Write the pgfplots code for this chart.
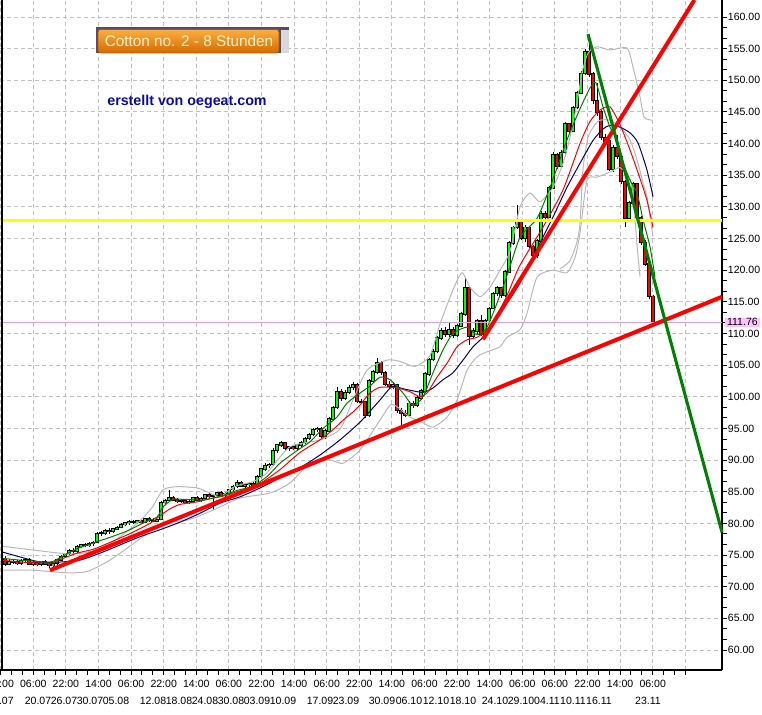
\documentclass[border=0pt]{standalone}
\usepackage{pgfplots}
\pgfplotsset{compat=1.18}
\usepackage{pgfplotstable}
\usepackage{fontspec}
\setmainfont{Liberation Sans}
\definecolor{gridc}{HTML}{C0C0C0}
\definecolor{bandc}{HTML}{B8B8B8}
\definecolor{upc}{HTML}{00FF00}
\definecolor{dnc}{HTML}{FF0000}
\definecolor{mag}{HTML}{008000}
\definecolor{mar}{HTML}{FF0000}
\definecolor{man}{HTML}{000080}
\definecolor{yel}{HTML}{FFFF00}
\definecolor{plumc}{HTML}{DDA0DD}
\definecolor{pinkc}{HTML}{FFC0FF}
\definecolor{trg}{HTML}{008000}
\definecolor{tA}{HTML}{F9B040}
\definecolor{tB}{HTML}{F08A10}
\definecolor{tC}{HTML}{D86800}
\definecolor{tframe}{HTML}{5A4A66}
\definecolor{tborder}{HTML}{A85A10}
\definecolor{tcream}{HTML}{FFEFC8}
\definecolor{oblue}{HTML}{0A0AA0}
\begin{document}
\pgfplotstableread{
x o h l c
5 74.4 74.9 73.3 73.6
9 73.6 74.3 73.4 74.0
13 74.0 74.3 73.6 73.9
17 73.9 74.2 73.5 73.7
21 73.7 74.4 73.5 74.1
25 74.1 74.6 73.8 74.3
29 74.3 74.5 73.4 73.6
33 73.6 74.0 73.3 73.8
37 73.8 74.1 73.3 73.5
41 73.5 74.0 73.2 73.9
45 73.9 74.2 73.4 73.6
49 73.6 73.9 73.0 73.3
53 73.3 73.9 73.1 73.7
57 73.7 74.4 73.5 74.2
61 74.2 75.0 74.0 74.8
65 74.8 75.4 74.5 75.2
69 75.2 75.9 75.0 75.7
73 75.7 76.1 75.3 75.6
77 75.6 76.6 75.4 76.4
81 76.4 76.8 76.1 76.6
85 76.6 76.9 76.2 76.5
89 76.5 77.0 76.3 76.8
93 76.8 77.2 76.5 77.0
97 77.0 78.6 76.9 78.4
101 78.4 78.8 78.0 78.5
105 78.5 79.1 78.2 78.9
109 78.9 79.2 78.4 78.7
113 78.7 79.3 78.5 79.1
117 79.1 79.6 78.9 79.4
121 79.4 80.0 79.2 79.8
125 79.8 80.3 79.6 80.1
129 80.1 80.6 79.8 80.3
133 80.3 80.5 79.9 80.2
137 80.2 80.6 79.9 80.4
141 80.4 80.6 80.0 80.1
145 80.1 80.9 80.0 80.7
149 80.7 81.0 80.3 80.5
153 80.5 80.8 80.2 80.4
157 80.4 80.7 80.2 80.6
161 80.6 83.6 80.5 83.3
165 83.3 83.8 83.1 83.6
169 83.6 85.3 83.4 84.1
173 84.1 84.4 83.5 83.7
177 83.7 84.0 83.3 83.5
181 83.5 83.8 83.2 83.6
185 83.6 83.9 83.1 83.3
189 83.3 83.7 83.0 83.5
193 83.5 84.2 83.3 84.0
197 84.0 84.3 83.5 83.7
201 83.7 84.1 83.4 83.9
205 83.9 84.7 83.7 84.5
209 84.5 84.8 84.0 84.3
213 84.3 84.6 82.1 84.4
217 84.4 85.0 84.1 84.8
221 84.8 85.1 84.3 84.5
225 84.5 84.9 84.2 84.7
229 84.7 85.5 84.5 85.3
233 85.3 86.0 85.0 85.8
237 85.8 86.8 85.6 86.5
241 86.5 86.7 85.7 85.9
245 85.9 86.3 85.6 86.1
249 86.1 86.5 85.8 86.3
253 86.3 86.6 85.8 86.0
257 86.0 87.6 85.9 87.4
261 87.4 88.8 87.2 88.6
265 88.6 89.5 88.3 89.1
269 89.1 89.6 88.8 89.3
273 89.3 91.9 89.1 91.5
277 91.5 92.6 91.2 92.4
281 92.4 93.0 92.0 92.7
285 92.7 92.9 91.6 91.9
289 91.9 92.3 91.5 92.1
293 92.1 92.4 91.6 91.8
297 91.8 92.6 91.6 92.4
301 92.4 93.0 92.1 92.8
305 92.8 93.6 92.6 93.4
309 93.4 94.3 93.1 94.0
313 94.0 95.1 93.8 94.8
317 94.8 95.3 94.5 95.0
321 95.0 95.3 93.5 93.8
325 93.8 94.9 93.4 94.6
329 94.6 96.8 94.4 96.5
333 96.5 98.6 96.2 98.3
337 98.3 101.5 98.0 100.8
341 100.8 101.2 99.4 99.8
345 99.8 101.0 99.5 100.7
349 100.7 101.8 100.4 101.5
353 101.5 102.3 101.1 101.9
357 101.9 102.2 99.0 99.3
361 99.3 99.6 98.9 99.2
365 99.2 99.4 96.7 97.0
369 97.0 102.8 96.8 102.5
373 102.5 104.2 102.2 103.9
377 103.9 106.1 103.6 105.4
381 105.4 105.7 103.5 103.8
385 103.8 104.1 101.7 102.0
389 102.0 102.5 101.3 101.7
393 101.7 102.3 101.2 101.9
397 101.9 102.1 97.4 97.8
401 97.8 98.3 95.5 97.4
405 97.4 97.9 96.8 97.1
409 97.1 99.3 96.9 99.0
413 99.0 99.4 98.3 98.6
417 98.6 100.1 98.4 99.8
421 99.8 101.2 99.5 100.9
425 100.9 103.9 100.6 103.6
429 103.6 106.2 103.3 105.9
433 105.9 107.5 105.6 107.2
437 107.2 109.6 106.9 109.3
441 109.3 110.8 109.0 110.5
445 110.5 111.0 109.4 109.8
449 109.8 111.8 109.5 110.6
453 110.6 111.0 109.3 109.7
457 109.7 111.5 109.5 111.2
461 111.2 113.4 111.0 113.1
465 113.1 118.8 112.8 117.2
469 117.2 117.5 108.2 109.5
473 109.5 110.8 109.2 110.4
477 110.4 112.3 110.0 112.0
481 112.0 112.9 109.6 109.9
485 109.9 112.3 109.4 112.0
489 112.0 114.2 111.8 114.0
493 114.0 116.5 113.8 116.3
497 116.3 117.5 116.0 117.2
501 117.2 117.4 115.6 116.0
505 116.0 120.0 115.8 119.7
509 119.7 124.6 119.5 124.3
513 124.3 127.0 124.0 126.8
517 126.8 130.3 126.5 127.8
521 127.8 128.0 124.8 125.1
525 125.1 127.2 124.5 126.8
529 126.8 127.0 123.5 123.8
533 123.8 124.0 121.8 122.4
537 122.4 125.0 122.0 124.6
541 124.6 129.3 124.3 128.9
545 128.9 129.3 128.0 128.4
549 128.4 133.3 128.2 133.0
553 133.0 138.6 132.8 138.2
557 138.2 138.5 136.0 136.4
561 136.4 139.0 136.1 138.6
565 138.6 143.4 138.3 143.1
569 143.1 143.3 141.6 142.0
573 142.0 146.0 141.8 145.7
577 145.7 148.3 145.4 148.0
581 148.0 151.4 147.8 151.1
585 151.1 155.0 150.9 154.6
589 154.6 157.2 150.6 151.0
593 151.0 151.3 146.3 146.8
597 146.8 149.5 144.3 145.0
601 145.0 145.3 140.6 141.0
605 141.0 141.5 139.6 140.4
609 140.4 140.6 135.6 136.0
613 136.0 139.8 135.5 139.4
617 139.4 141.4 137.6 138.0
621 138.0 138.2 133.6 134.0
625 134.0 134.3 126.8 128.2
629 128.2 131.0 127.9 130.6
633 130.6 134.0 130.3 133.6
637 133.6 133.8 127.8 128.3
641 128.3 128.6 124.0 124.4
645 124.4 124.7 120.6 121.0
649 121.0 121.2 115.5 115.9
653 115.9 116.1 111.5 111.76
}\candles
\begin{tikzpicture}
\begin{axis}[
  at={(0pt,33pt)}, anchor=south west,
  scale only axis, width=541.5pt, height=502.5pt,
  xmin=0, xmax=722, ymin=56.84, ymax=162.69,
  axis x line*=bottom, axis y line*=right,
  axis line style={black, line width=1.8pt},
  clip=false,
  tick align=outside,
  xtick={0.7,33.3,65.9,98.5,131.1,163.7,196.3,228.9,261.5,294.1,326.7,359.3,391.9,424.5,457.1,489.7,522.3,554.9,587.5,620.1,652.7,685.3},
  xticklabels={14:00,06:00,22:00,14:00,06:00,22:00,14:00,06:00,22:00,14:00,06:00,22:00,14:00,06:00,22:00,14:00,06:00,06:00,22:00,14:00,06:00,{}},
  minor x tick num=2,
  ytick={60,65,...,160},
  minor y tick num=2,
  major tick length=3.5pt, minor tick length=3.5pt,
  every tick/.style={black, line width=0.75pt},
  grid=major,
  major grid style={gridc, dash pattern=on 3pt off 2.25pt, line width=0.75pt},
  tick label style={font=\fontsize{7.9}{9}\selectfont, black},
  xticklabel style={yshift=-0.8pt},
  yticklabel style={xshift=-2.6pt, /pgf/number format/fixed, /pgf/number format/fixed zerofill, /pgf/number format/precision=2, /pgf/number format/assume math mode=true},
  extra x ticks={0.5,38,64,90,116,153,179,205,231,257,283,320,346,382,409,436,463,495,521,547,573,599,648},
  extra x tick labels={13.07,20.07,26.07,30.07,05.08,12.08,18.08,24.08,30.08,03.09,10.09,17.09,23.09,30.09,06.10,12.10,18.10,24.10,29.10,04.11,10.11,16.11,23.11},
  extra x tick style={grid=none, every tick/.style={draw=none}, xticklabel style={yshift=-12.75pt}},
  extra y ticks={111.76},
  extra y tick labels={111.76},
  extra y tick style={grid=none, yticklabel style={fill=pinkc, inner ysep=0.6pt, inner xsep=1.5pt, xshift=1.2pt}},
]
% candles: wicks
\addplot[draw=none, mark=none, forget plot,
  error bars/.cd, y dir=both, y explicit, error mark=none,
  error bar style={draw=black, line width=0.75pt, line cap=butt}]
  table[x=x, y expr=(\thisrow{h}+\thisrow{l})/2, y error expr=(\thisrow{h}-\thisrow{l})/2]{\candles};
% up bodies
\addplot[draw=none, mark=none, forget plot,
  restrict expr to domain={\thisrow{c}-\thisrow{o}}{0:1000},
  error bars/.cd, y dir=both, y explicit, error mark=none,
  error bar style={draw=black, line width=2.8pt, line cap=butt}]
  table[x=x, y expr=(\thisrow{o}+\thisrow{c})/2, y error expr=abs(\thisrow{c}-\thisrow{o})/2+0.1]{\candles};
\addplot[draw=none, mark=none, forget plot,
  restrict expr to domain={\thisrow{c}-\thisrow{o}}{0:1000},
  error bars/.cd, y dir=both, y explicit, error mark=none,
  error bar style={draw=upc, line width=1.4pt, line cap=butt}]
  table[x=x, y expr=(\thisrow{o}+\thisrow{c})/2, y error expr=abs(\thisrow{c}-\thisrow{o})/2-0.05]{\candles};
% down bodies
\addplot[draw=none, mark=none, forget plot,
  restrict expr to domain={\thisrow{c}-\thisrow{o}}{-1000:-0.00001},
  error bars/.cd, y dir=both, y explicit, error mark=none,
  error bar style={draw=black, line width=2.8pt, line cap=butt}]
  table[x=x, y expr=(\thisrow{o}+\thisrow{c})/2, y error expr=abs(\thisrow{c}-\thisrow{o})/2+0.1]{\candles};
\addplot[draw=none, mark=none, forget plot,
  restrict expr to domain={\thisrow{c}-\thisrow{o}}{-1000:-0.00001},
  error bars/.cd, y dir=both, y explicit, error mark=none,
  error bar style={draw=dnc, line width=1.4pt, line cap=butt}]
  table[x=x, y expr=(\thisrow{o}+\thisrow{c})/2, y error expr=abs(\thisrow{c}-\thisrow{o})/2-0.05]{\candles};
% bands
\addplot[bandc, line width=0.75pt, smooth, tension=0.4] coordinates {(2,76.4) (33,75.8) (67,75.2) (90,75.5) (110,76.8) (125,78.5) (140,80.4) (152,82.5) (163,85.3) (177,85.8) (197,85.6) (210,84.8) (220,84.2) (232,85.6) (240,86.1) (253,86.6) (267,88.0) (290,92.1) (320,93.2) (340,94.9) (353,99.5) (367,104.2) (387,105.8) (400,105.6) (415,104.8) (430,106.5) (440,111.5) (453,116.9) (462,119.6) (470,117.3) (480,115.8) (490,117.3) (500,120.0) (510,123.0) (520,130.0) (530,132.2) (540,130.8) (553,133.1) (563,136.9) (570,141.0) (577,146.4) (582,151.2) (588,154.3) (597,155.3) (610,154.8) (627,155.1) (633,152.1) (640,147.4) (644,144.2) (652,143.7)};
\addplot[bandc, line width=0.75pt, smooth, tension=0.4] coordinates {(2,72.6) (33,72.6) (67,72.2) (87,72.4) (110,74.2) (143,77.9) (163,80.1) (187,80.5) (213,82.1) (240,84.0) (270,84.8) (290,86.4) (310,89.5) (330,90.0) (343,89.5) (360,91.6) (380,96.3) (392,98.8) (410,96.8) (423,95.9) (433,95.2) (447,96.8) (457,99.5) (467,104.2) (477,106.3) (487,107.1) (500,107.9) (507,109.4) (520,110.6) (527,113.2) (537,118.9) (553,120.0) (567,119.6) (575,122.0) (580,125.9) (587,134.2) (597,134.7) (610,135.5) (620,136.2) (630,134.5) (634,130.0) (637,124.0) (640,119.0)};
\addplot[bandc, line width=0.75pt, smooth, tension=0.4] coordinates {(560,120.2) (570,121.5) (577,124.5) (580,127.4) (583,136.0) (588,141.0) (595,143.0) (600,143.7) (610,143.7) (620,142.6) (630,140.6) (638,136.9) (643,133.8) (647,131.6) (650,128.4) (653,125.3)};
% moving averages
\addplot[man, line width=0.75pt, smooth, tension=0.4] coordinates {(2,75.5) (20,74.7) (40,73.9) (60,73.9) (80,74.2) (100,75.3) (120,76.6) (140,77.9) (160,79.0) (180,80.2) (200,81.6) (220,83.2) (240,84.2) (260,85.6) (280,87.2) (300,88.8) (320,90.8) (340,93.2) (360,96.0) (380,99.5) (392,101.6) (405,101.2) (423,100.7) (433,101.4) (443,102.7) (453,103.8) (463,105.8) (473,107.9) (483,109.4) (490,111.0) (500,113.5) (510,115.5) (520,118.0) (530,121.0) (540,124.3) (553,128.4) (567,133.1) (580,136.9) (593,140.5) (603,142.3) (610,142.9) (620,142.6) (630,141.7) (638,140.1) (647,135.8) (653,131.6)};
\addplot[mar, line width=0.75pt, smooth, tension=0.4] coordinates {(2,74.2) (20,73.9) (50,73.7) (57,74.1) (77,75.3) (93,75.9) (110,77.0) (130,78.4) (150,80.0) (160,81.2) (170,82.3) (180,83.0) (197,83.4) (210,83.9) (223,84.3) (237,85.0) (250,85.6) (263,86.6) (280,88.5) (300,91.2) (320,93.2) (333,94.8) (343,96.3) (353,97.6) (360,98.7) (370,100.6) (380,101.5) (393,101.5) (400,101.3) (410,100.8) (420,100.0) (427,100.6) (437,103.1) (447,105.3) (457,107.9) (467,109.0) (477,109.4) (487,110.6) (497,112.9) (507,116.0) (520,120.8) (543,126.8) (563,132.7) (580,140.0) (590,143.5) (600,145.3) (610,145.8) (620,143.0) (630,139.0) (640,134.5) (647,131.0) (653,126.8)};
\addplot[mag, line width=0.75pt, smooth, tension=0.4] coordinates {(2,74.5) (20,74.2) (50,73.9) (60,74.6) (77,76.0) (93,76.9) (110,77.8) (127,78.8) (145,80.2) (157,81.0) (163,82.6) (173,83.8) (183,83.8) (203,83.7) (223,84.4) (237,85.2) (253,85.9) (267,87.4) (280,89.5) (297,91.5) (310,92.9) (323,95.0) (337,96.8) (347,99.0) (360,100.6) (370,101.7) (380,103.1) (390,102.7) (403,100.6) (413,98.6) (423,100.0) (433,103.8) (443,107.4) (453,110.0) (467,111.0) (477,109.8) (487,111.0) (497,114.8) (508,119.6) (520,125.2) (537,128.2) (550,133.1) (567,140.6) (580,145.5) (590,148.8) (596,149.6) (603,145.8) (610,142.6) (617,140.6) (623,137.0) (630,134.2) (637,132.2) (643,128.0) (650,123.7) (655,118.9)};
% horizontal lines
\addplot[plumc, line width=0.75pt] coordinates {(0,111.76) (722,111.76)};
\addplot[yel, line width=2.3pt] coordinates {(0,127.9) (722,127.9)};
% trend lines
\addplot[red, line width=3pt] coordinates {(50,72.6) (722,115.8)};
\addplot[red, line width=3pt] coordinates {(483,109.1) (694.4,162.69)};
\addplot[trg, line width=2.3pt] coordinates {(588,157.3) (722,78.6)};
% left border
\draw[black, line width=1.5pt] (axis cs:2,56.84) -- (axis cs:2,162.69);
\end{axis}
\begin{scope}[x=0.75pt, y=-0.75pt, yshift=535.5pt]
  \fill[tframe] (96,27) rectangle (289,53);
  \fill[gray!30] (281,30) rectangle (289,53);
  \shade[top color=tA, middle color=tB, bottom color=tC, draw=tborder, rounded corners=2pt] (98,29.5) rectangle (279,53);
  \node[text=tcream, font=\fontsize{11.5}{12}\selectfont] at (189,41.5) {Cotton no. 2 - 8 Stunden};
  \node[text=oblue, font=\bfseries\fontsize{10.7}{12}\selectfont] at (187,101.5) {erstellt von oegeat.com};
\end{scope}
\pgfresetboundingbox
\path[use as bounding box] (0,0) rectangle (571.5pt,535.5pt);
\end{tikzpicture}
\end{document}
